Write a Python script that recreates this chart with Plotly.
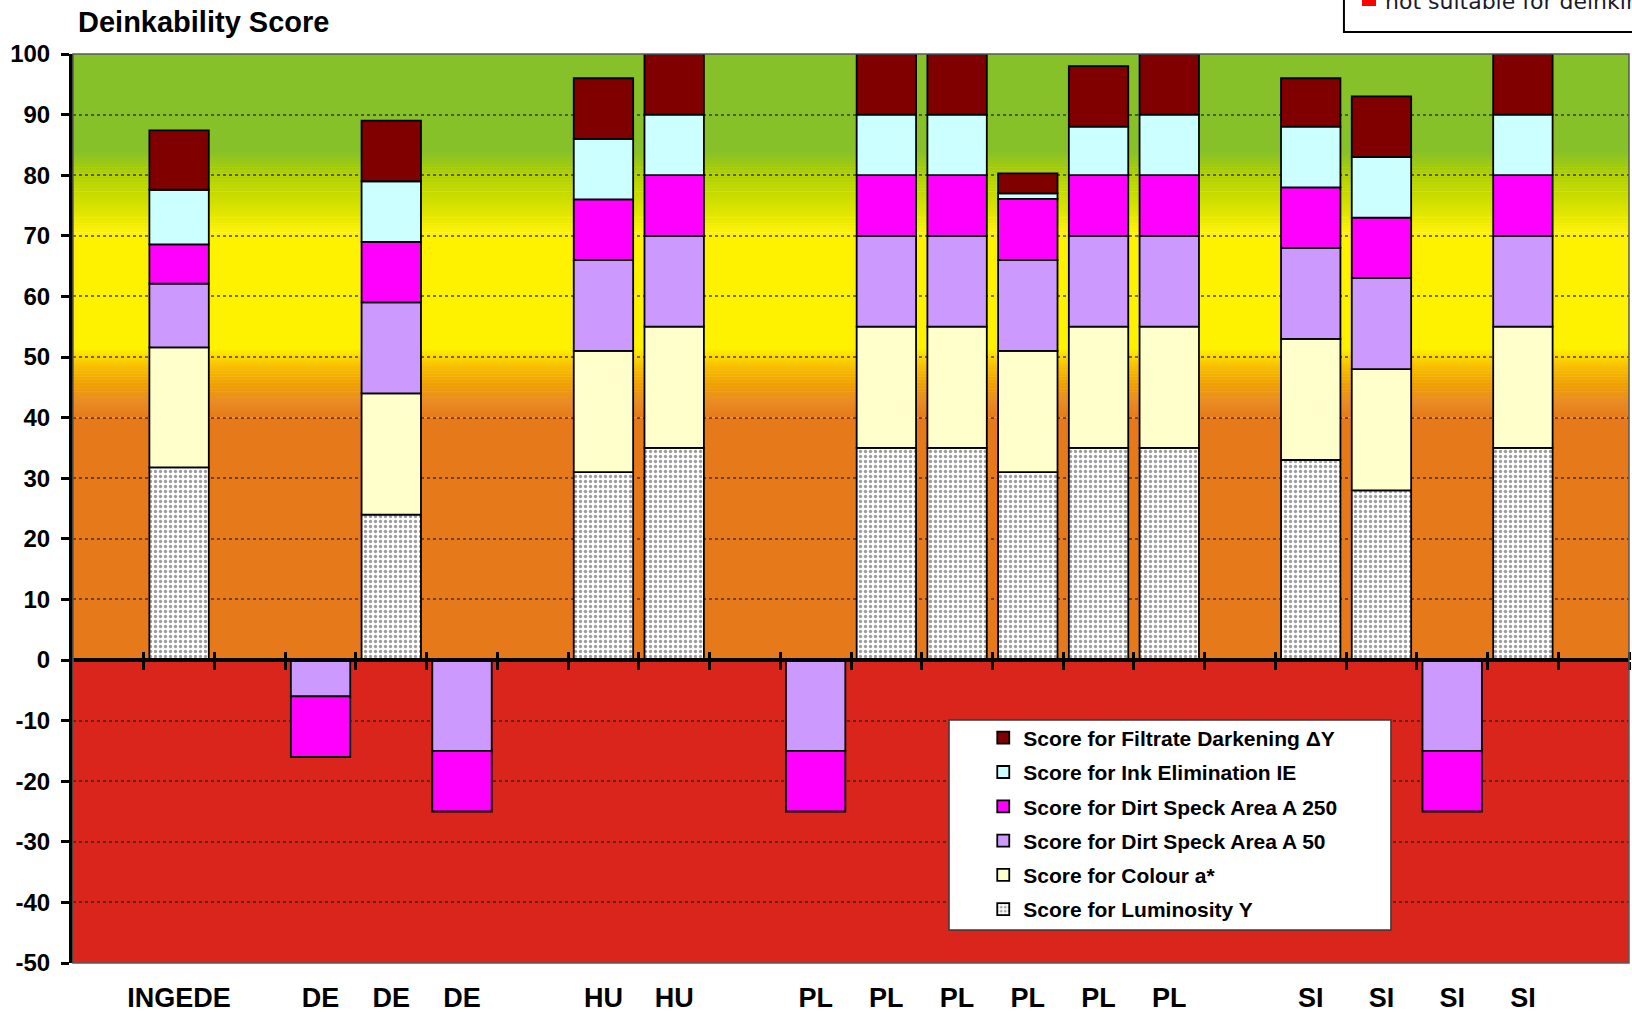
import plotly.graph_objects as go

# ---- data -------------------------------------------------------------
countries = ["INGEDE", "DE", "DE", "DE", "HU", "HU", "PL", "PL", "PL", "PL",
             "PL", "PL", "SI", "SI", "SI", "SI"]
luminosity = [31.8, None, 24, None, 31, 35, None, 35, 35, 31, 35, 35, 33, 28, None, 35]
colour_a = [19.8, None, 20, None, 20, 20, None, 20, 20, 20, 20, 20, 20, 20, None, 20]
speck_a50 = [10.5, -6, 15, -15, 15, 15, -15, 15, 15, 15, 15, 15, 15, 15, -15, 15]
speck_a250 = [6.5, -10, 10, -10, 10, 10, -10, 10, 10, 10.1, 10, 10, 10, 10, -10, 10]
ink_elimination = [9.0, None, 10, None, 10, 10, None, 10, 10, 0.9, 8, 10, 10, 10, None, 10]
filtrate_darkening = [9.8, None, 10, None, 10, 10, None, 10, 10, 3.3, 10, 10, 8, 10, None, 10]

series_names = [
    "Score for Luminosity Y",
    "Score for Colour a*",
    "Score for Dirt Speck Area A 50",
    "Score for Dirt Speck Area A 250",
    "Score for Ink Elimination IE",
    "Score for Filtrate Darkening \u0394Y",
]
y_ticks = list(range(-50, 101, 10))
y_tick_text = [str(v) for v in y_ticks]

# ---- slot positions: one empty slot between country groups -------------
positions = []
slot = -1
prev = None
for c in countries:
    if c != prev:
        slot += 1
    slot += 1
    positions.append(slot)
    prev = c
x_range = [-0.5, positions[-1] + 1.5]
boundaries = [b + 0.5 for b in range(0, positions[-1] + 2)]

FONT = "Liberation Sans, Arial, sans-serif"

# ---- background bands (assessment zones) -------------------------------
zone_stops = [
    (0, "#E67A1A"), (40, "#E67A1A"), (43, "#EA8E24"), (45.5, "#F0A000"),
    (48.5, "#F8C000"), (51.5, "#FFF200"), (70.5, "#FFF200"), (73.5, "#E2E600"),
    (77, "#C6DB00"), (80, "#B0D000"), (84, "#86C12A"), (100, "#86C12A"),
]


def hex_rgb(h):
    h = h.lstrip("#")
    return tuple(int(h[i:i + 2], 16) for i in (0, 2, 4))


shapes = [dict(type="rect", xref="paper", yref="y", x0=0, x1=1, y0=-50, y1=0,
               fillcolor="#DA251D", line_width=0, layer="below")]
for (v0, c0), (v1, c1) in zip(zone_stops[:-1], zone_stops[1:]):
    if c0 == c1:
        shapes.append(dict(type="rect", xref="paper", yref="y", x0=0, x1=1,
                           y0=v0, y1=v1, fillcolor=c0, line_width=0, layer="below"))
        continue
    r0, r1 = hex_rgb(c0), hex_rgb(c1)
    n = int(round((v1 - v0) / 0.25))
    for k in range(n):
        t = (k + 0.5) / n
        rgb = tuple(round(a + (b - a) * t) for a, b in zip(r0, r1))
        ya = v0 + (v1 - v0) * k / n
        yb = v0 + (v1 - v0) * (k + 1) / n + 0.08
        shapes.append(dict(type="rect", xref="paper", yref="y", x0=0, x1=1,
                           y0=ya, y1=yb, fillcolor="rgb(%d,%d,%d)" % rgb,
                           line_width=0, layer="below"))

# plot frame
shapes.append(dict(type="rect", xref="paper", yref="paper", x0=0, x1=1, y0=0, y1=1,
                   line=dict(color="#5a5a5a", width=1.5), layer="above"))
# legend box
shapes.append(dict(type="rect", xref="paper", yref="paper", x0=0.563, x1=0.847,
                   y0=0.0363, y1=0.2673, fillcolor="white",
                   line=dict(color="#3a3a3a", width=1.5), layer="above"))
# zone legend box in the top right corner
shapes.append(dict(type="rect", xref="paper", yref="paper", x0=0.8168, x1=1.2,
                   y0=1.0242, y1=1.3, fillcolor="white",
                   line=dict(color="black", width=2)))
shapes.append(dict(type="rect", xref="paper", yref="paper", x0=0.8284, x1=0.8374,
                   y0=1.0528, y1=1.068, fillcolor="#FF0000", line_width=0))

# ---- traces ------------------------------------------------------------
fill_colours = ["white", "#FFFFCC", "#CC99FF", "#FF00FF", "#CCFFFF", "#800000"]
values = [luminosity, colour_a, speck_a50, speck_a250, ink_elimination, filtrate_darkening]

fig = go.Figure()
for i, (name, vals, col) in enumerate(zip(series_names, values, fill_colours)):
    marker = dict(color=col, line=dict(color="black", width=1.8))
    if i == 0:
        marker["pattern"] = dict(shape=".", fgcolor="#3c3c3c", bgcolor="white",
                                 size=5, solidity=0.35, fillmode="overlay")
    fig.add_trace(go.Bar(x=positions, y=vals, name=name, width=0.84,
                         marker=marker, legendgroup=name,
                         legendrank=100 - 10 * i, hoverinfo="skip"))

# carriers for the zero-line axes
for ax in ("x2", "x3"):
    fig.add_trace(go.Scatter(x=[0], y=[0], xaxis=ax, yaxis="y", mode="markers",
                             marker=dict(opacity=0), showlegend=False,
                             hoverinfo="skip"))

zero_pos = (0 - y_ticks[0]) / (y_ticks[-1] - y_ticks[0])

fig.update_layout(
    width=1632, height=1016,
    margin=dict(l=73, r=3, t=54, b=53),
    paper_bgcolor="white", plot_bgcolor="white",
    barmode="relative",
    font=dict(family=FONT, color="black"),
    shapes=shapes,
    xaxis=dict(range=x_range, tickvals=positions, ticktext=countries,
               showgrid=False, zeroline=False, showline=False, ticks="",
               tickfont=dict(size=27, weight="bold", family=FONT),
               ticklabelstandoff=16, fixedrange=True),
    xaxis2=dict(overlaying="x", anchor="free", position=zero_pos, side="bottom",
                range=x_range, tickvals=boundaries, ticks="outside", ticklen=8,
                tickwidth=3, tickcolor="black", showticklabels=False,
                showline=True, linewidth=4, linecolor="black", showgrid=False,
                zeroline=False, layer="above traces"),
    xaxis3=dict(overlaying="x", anchor="free", position=zero_pos, side="top",
                range=x_range, tickvals=boundaries, ticks="outside", ticklen=8,
                tickwidth=3, tickcolor="black", showticklabels=False,
                showline=False, showgrid=False, zeroline=False,
                layer="above traces"),
    yaxis=dict(range=[y_ticks[0], y_ticks[-1]], tickvals=y_ticks,
               ticktext=y_tick_text,
               showline=True, linewidth=4, linecolor="black",
               ticks="outside", ticklen=8, tickwidth=3, tickcolor="black",
               tickfont=dict(size=24, weight="bold", family=FONT),
               showgrid=True, gridcolor="rgba(30,30,10,0.6)", griddash="dot",
               gridwidth=1.5, zeroline=False, layer="above traces",
               ticklabelstandoff=6),
    legend=dict(x=0.585, y=0.27, xanchor="left", yanchor="top",
                bgcolor="rgba(0,0,0,0)", borderwidth=0,
                traceorder="grouped", tracegroupgap=4,
                font=dict(size=21, weight="bold", family=FONT)),
    annotations=[
        dict(text="Deinkability Score", xref="paper", yref="paper", x=0.002,
             y=1.035, xanchor="left", yanchor="middle", showarrow=False,
             font=dict(size=29, weight="bold", family=FONT)),
        dict(text="not suitable for deinking", xref="paper", yref="paper",
             x=0.8419, y=1.058, xanchor="left", yanchor="middle", showarrow=False,
             font=dict(size=22, family="DejaVu Sans", color="#1a1a2a")),
    ],
)

fig.write_html("out.html")
